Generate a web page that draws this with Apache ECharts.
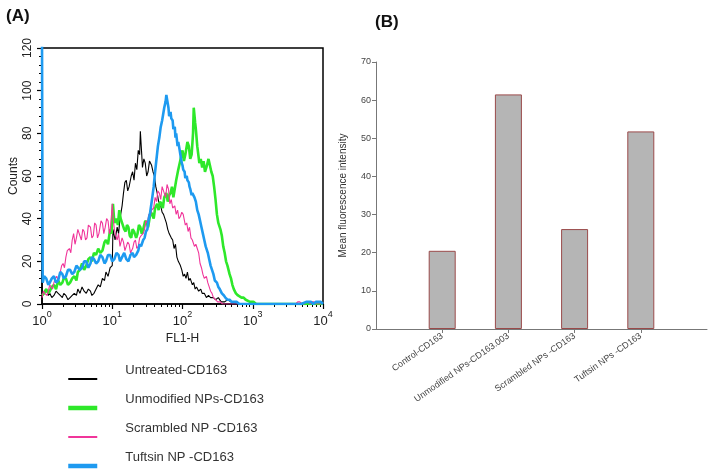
<!DOCTYPE html>
<html>
<head>
<meta charset="utf-8">
<script src="https://cdn.jsdelivr.net/npm/echarts@6/dist/echarts.min.js"></script>
<style>
html,body{margin:0;padding:0;background:#fff;}
#chart{width:714px;height:476px;}
</style>
</head>
<body>
<div id="chart"></div>
<script>
// ---- Panel A: flow cytometry histograms (x = log10 FL1-H, y = counts) ----
const seriesNames = ['Untreated-CD163', 'Unmodified NPs-CD163', 'Scrambled NP -CD163', 'Tuftsin NP -CD163'];
const decadeLabels = ['0', '1', '2', '3', '4'];

const untreated = [[0,5],[0.03,6],[0.06,7],[0.09,4],[0.11,5],[0.14,3],[0.17,4],[0.2,6],[0.23,5],[0.26,4],[0.29,3],[0.31,5],[0.34,4],[0.37,2],[0.40,3],[0.43,4],[0.46,5],[0.49,4],[0.51,7],[0.54,5],[0.57,8],[0.6,6],[0.63,5],[0.66,7],[0.69,6],[0.71,4],[0.74,5],[0.77,7],[0.80,9],[0.83,8],[0.86,12],[0.89,11],[0.91,15],[0.94,13],[0.97,17],[1.00,18],[1.01,35],[1.04,30],[1.07,36],[1.09,33],[1.11,40],[1.14,46],[1.16,52],[1.18,57],[1.20,58],[1.22,53],[1.24,55],[1.27,60],[1.29,62],[1.31,58],[1.33,66],[1.35,63],[1.37,72],[1.39,70],[1.40,81],[1.42,70],[1.43,64],[1.45,68],[1.47,66],[1.49,60],[1.51,62],[1.53,67],[1.56,65],[1.58,62],[1.60,60],[1.62,55],[1.64,52],[1.66,48],[1.69,46],[1.71,43],[1.73,42],[1.75,40],[1.77,38],[1.79,35],[1.81,33],[1.84,31],[1.86,30],[1.88,26],[1.90,28],[1.92,22],[1.94,20],[1.97,18],[1.99,16],[2.01,13],[2.03,14],[2.05,12],[2.07,15],[2.09,11],[2.11,12],[2.14,9],[2.16,10],[2.18,7],[2.20,8],[2.23,6],[2.26,7],[2.28,5],[2.31,5],[2.34,3],[2.37,4],[2.40,3],[2.44,3],[2.47,2],[2.51,3],[2.55,1],[2.60,1],[2.64,2],[2.69,1],[2.73,0],[2.77,0],[4,0]];

const unmodified = [[0,4],[0.03,5],[0.06,7],[0.09,5],[0.11,6],[0.14,8],[0.17,9],[0.2,7],[0.23,11],[0.26,9],[0.29,10],[0.31,12],[0.34,12],[0.37,9],[0.40,10],[0.43,12],[0.46,13],[0.49,11],[0.51,15],[0.54,16],[0.57,19],[0.6,16],[0.63,18],[0.66,21],[0.69,22],[0.71,20],[0.74,24],[0.77,23],[0.80,26],[0.83,24],[0.86,25],[0.89,29],[0.91,30],[0.94,28],[0.97,35],[0.99,33],[1.01,47],[1.03,38],[1.06,40],[1.08,37],[1.10,44],[1.12,40],[1.14,38],[1.17,35],[1.19,34],[1.21,37],[1.23,36],[1.25,32],[1.27,31],[1.29,35],[1.31,34],[1.34,31],[1.36,33],[1.38,37],[1.40,36],[1.42,33],[1.44,35],[1.47,39],[1.49,38],[1.51,36],[1.53,40],[1.55,43],[1.57,42],[1.59,40],[1.61,45],[1.64,47],[1.66,44],[1.68,48],[1.70,47],[1.72,45],[1.74,50],[1.77,52],[1.79,48],[1.81,51],[1.83,52],[1.85,55],[1.87,50],[1.89,54],[1.91,58],[1.94,63],[1.96,66],[1.98,69],[2.00,72],[2.02,67],[2.04,70],[2.07,76],[2.09,74],[2.11,68],[2.13,70],[2.15,80],[2.16,92],[2.18,85],[2.19,82],[2.21,74],[2.24,66],[2.26,68],[2.28,64],[2.30,67],[2.32,62],[2.34,64],[2.37,68],[2.39,65],[2.41,62],[2.43,60],[2.45,55],[2.47,49],[2.49,42],[2.51,38],[2.54,35],[2.56,32],[2.58,27],[2.60,24],[2.62,20],[2.64,18],[2.67,14],[2.69,12],[2.71,9],[2.73,7],[2.76,5],[2.79,4],[2.84,3],[2.87,3],[2.90,2],[2.96,1],[3.01,1],[3.05,0],[3.09,0],[4,0]];

const scrambled = [[0,3],[0.02,6],[0.04,5],[0.07,4],[0.09,6],[0.11,9],[0.13,8],[0.15,7],[0.17,10],[0.19,12],[0.21,13],[0.23,11],[0.26,15],[0.28,18],[0.30,19],[0.32,17],[0.34,22],[0.36,25],[0.39,26],[0.41,24],[0.43,30],[0.45,33],[0.47,28],[0.49,31],[0.51,35],[0.54,32],[0.56,30],[0.58,35],[0.60,34],[0.62,30],[0.64,31],[0.66,37],[0.69,36],[0.71,31],[0.73,32],[0.75,38],[0.77,37],[0.79,31],[0.81,33],[0.84,39],[0.86,38],[0.88,33],[0.90,36],[0.92,40],[0.94,39],[0.96,33],[0.97,34],[0.99,42],[1.00,47],[1.02,38],[1.03,35],[1.05,32],[1.07,30],[1.09,33],[1.11,27],[1.14,31],[1.16,29],[1.18,25],[1.20,25],[1.22,29],[1.24,28],[1.26,24],[1.29,26],[1.31,29],[1.33,30],[1.35,26],[1.37,27],[1.39,31],[1.41,32],[1.44,33],[1.46,35],[1.48,39],[1.50,38],[1.52,42],[1.54,41],[1.56,44],[1.59,45],[1.61,50],[1.63,48],[1.65,53],[1.67,52],[1.69,49],[1.71,55],[1.74,52],[1.76,50],[1.78,56],[1.80,54],[1.82,47],[1.84,49],[1.86,45],[1.89,46],[1.91,42],[1.93,44],[1.95,40],[1.97,41],[1.99,43],[2.01,42],[2.04,37],[2.06,38],[2.08,34],[2.10,36],[2.12,31],[2.14,30],[2.17,27],[2.19,28],[2.21,26],[2.23,24],[2.25,19],[2.27,17],[2.29,14],[2.31,12],[2.34,13],[2.36,10],[2.38,8],[2.40,6],[2.42,5],[2.44,3],[2.47,2],[2.50,1],[2.54,1],[2.57,0],[3.61,0],[3.64,1],[3.67,1],[3.70,0],[3.73,0],[3.76,1],[3.79,1],[3.82,0],[3.84,1],[3.87,1],[3.89,0],[4,0]];

const tuftsin = [[0,125],[0.01,10],[0.03,13],[0.06,12],[0.09,9],[0.11,10],[0.14,12],[0.17,13],[0.2,10],[0.23,11],[0.26,15],[0.29,14],[0.31,12],[0.34,13],[0.37,16],[0.40,16],[0.43,14],[0.46,15],[0.49,18],[0.51,18],[0.54,16],[0.57,17],[0.6,20],[0.63,20],[0.66,17],[0.69,19],[0.71,22],[0.74,21],[0.77,19],[0.80,20],[0.83,23],[0.86,22],[0.89,19],[0.91,20],[0.94,23],[0.97,23],[1.0,20],[1.03,21],[1.06,24],[1.09,23],[1.11,20],[1.14,22],[1.17,24],[1.20,21],[1.23,20],[1.26,23],[1.29,24],[1.31,22],[1.34,23],[1.37,25],[1.39,28],[1.41,27],[1.44,30],[1.46,31],[1.48,34],[1.50,35],[1.52,40],[1.54,43],[1.57,50],[1.59,55],[1.61,62],[1.63,68],[1.65,74],[1.67,78],[1.69,83],[1.71,86],[1.73,90],[1.74,92],[1.76,95],[1.77,98],[1.79,94],[1.80,92],[1.81,88],[1.83,90],[1.84,87],[1.86,86],[1.87,82],[1.89,83],[1.90,78],[1.91,80],[1.93,74],[1.94,76],[1.96,72],[1.97,70],[1.99,66],[2.00,65],[2.01,63],[2.03,62],[2.04,59],[2.06,60],[2.07,58],[2.09,57],[2.10,55],[2.11,54],[2.13,51],[2.14,52],[2.17,50],[2.19,48],[2.21,44],[2.23,42],[2.25,39],[2.27,36],[2.29,33],[2.31,30],[2.33,27],[2.36,24],[2.38,21],[2.40,18],[2.42,16],[2.44,14],[2.46,11],[2.49,10],[2.51,8],[2.53,7],[2.56,5],[2.59,4],[2.61,3],[2.64,2],[2.67,2],[2.70,1],[2.74,1],[2.77,1],[2.81,0],[2.86,0],[3.69,0],[3.76,1],[3.83,1],[3.86,0],[3.90,1],[3.93,1],[3.97,1],[4,0]];

// ---- Panel B: mean fluorescence intensity ----
const mfiCategories = ['Control-CD163', 'Unmodified NPs-CD163.003', 'Scrambled NPs -CD163', 'Tuftsin NPs -CD163'];
const mfiValues = [20.5, 61.5, 26.2, 51.8];

const FONT = 'Arial, "Liberation Sans", Helvetica, sans-serif';
const colors = ['#000000', '#2ee82a', '#f0359a', '#1e9af0'];
const widths = [1.1, 2.6, 1.1, 2.6];
const legendWidths = [2, 4.5, 2, 4.5];
const histData = [untreated, unmodified, scrambled, tuftsin];

// minor log ticks positions (2..9 within each decade)
const minorLog = [];
for (let n = 0; n < 4; n++) for (let k = 2; k <= 9; k++) minorLog.push(n + Math.log10(k));

const catsPadded = [''].concat(mfiCategories, ['']);
const valsPadded = ['-'].concat(mfiValues, ['-']);

const chart = echarts.init(document.getElementById('chart'));
chart.setOption({
  animation: false,
  backgroundColor: '#fff',
  textStyle: { fontFamily: FONT },
  title: [
    { text: '(A)', left: 1, top: 3, textStyle: { fontSize: 17, fontWeight: 'bold', color: '#111', fontFamily: FONT } },
    { text: '(B)', left: 370, top: 9, textStyle: { fontSize: 17, fontWeight: 'bold', color: '#111', fontFamily: FONT } }
  ],
  legend: {
    orient: 'vertical',
    left: 66, top: 361, padding: 0, height: 140,
    itemWidth: 29, itemHeight: 10, itemGap: -7,
    formatter: name => name + '\n ',
    itemStyle: { opacity: 0, borderWidth: 0 },
    textStyle: { fontSize: 13, color: '#333', lineHeight: 18, padding: [0, 0, 0, 23], fontFamily: FONT },
    data: seriesNames.map((n, i) => ({ name: n, itemStyle: { opacity: 0 }, lineStyle: { width: legendWidths[i], color: colors[i] } })),
    selectedMode: false
  },
  grid: [
    { left: 42, top: 48, width: 281, height: 256, show: true, borderColor: '#000', borderWidth: 1.5, backgroundColor: 'transparent' },
    { left: 376, top: 62, right: 7, height: 267 }
  ],
  xAxis: [
    {
      type: 'value', gridIndex: 0, min: 0, max: 4, interval: 1,
      name: 'FL1-H', nameLocation: 'middle', nameGap: 28,
      nameTextStyle: { fontSize: 12, color: '#222' },
      axisLine: { lineStyle: { color: '#000', width: 1.5 } },
      axisTick: { length: 5, lineStyle: { color: '#000', width: 1.2 } },
      splitLine: { show: false },
      axisLabel: {
        margin: 6, color: '#222',
        formatter: v => '{b|10}{s|' + decadeLabels[Math.round(v)] + '}',
        rich: {
          b: { fontSize: 13, color: '#222', lineHeight: 22, verticalAlign: 'middle' },
          s: { fontSize: 9, color: '#222', verticalAlign: 'top' }
        }
      }
    },
    {
      type: 'value', gridIndex: 0, min: 0, max: 4, position: 'bottom',
      axisLine: { show: false }, axisLabel: { show: false }, splitLine: { show: false },
      axisTick: { show: true, length: 3, customValues: minorLog, lineStyle: { color: '#000', width: 1 } }
    },
    {
      type: 'category', gridIndex: 1, data: catsPadded, boundaryGap: false,
      axisLine: { lineStyle: { color: '#777', width: 1 } },
      axisTick: { length: 4, lineStyle: { color: '#777' }, interval: (i) => i > 0 && i < catsPadded.length - 1 },
      axisLabel: { interval: 0, rotate: 35, fontSize: 9, color: '#444', margin: 6 }
    }
  ],
  yAxis: [
    {
      type: 'value', gridIndex: 0, min: 0, max: 120, interval: 20,
      name: 'Counts', nameLocation: 'middle', nameGap: 22,
      nameTextStyle: { fontSize: 12, color: '#222' },
      axisLine: { show: true, lineStyle: { color: '#000', width: 1.5 } },
      axisTick: { show: true, length: 5, lineStyle: { color: '#000', width: 1.2 } },
      minorTick: { show: true, splitNumber: 5, length: 3, lineStyle: { color: '#000', width: 1 } },
      splitLine: { show: false },
      axisLabel: { rotate: 90, fontSize: 12, color: '#222', margin: 8 }
    },
    {
      type: 'value', gridIndex: 1, min: 0, max: 70, interval: 10,
      name: 'Mean fluorescence intensity', nameLocation: 'middle', nameGap: 28,
      nameTextStyle: { fontSize: 10, color: '#333' },
      axisLine: { show: true, lineStyle: { color: '#777', width: 1 } },
      axisTick: { show: true, length: 4, lineStyle: { color: '#777' } },
      splitLine: { show: false },
      axisLabel: { fontSize: 9, color: '#444', margin: 5 }
    }
  ],
  series: histData.map((d, i) => ({
    name: seriesNames[i], type: 'line', xAxisIndex: 0, yAxisIndex: 0,
    data: d, symbol: 'none', showSymbol: false, clip: true,
    lineStyle: { color: colors[i], width: widths[i] },
    itemStyle: { color: colors[i] }
  })).concat([{
    name: 'MFI', type: 'bar', xAxisIndex: 2, yAxisIndex: 1,
    data: valsPadded, barWidth: 27,
    itemStyle: { color: '#b5b5b5', borderColor: '#9a4a4a', borderWidth: 1 }
  }])
});
</script>
</body>
</html>
